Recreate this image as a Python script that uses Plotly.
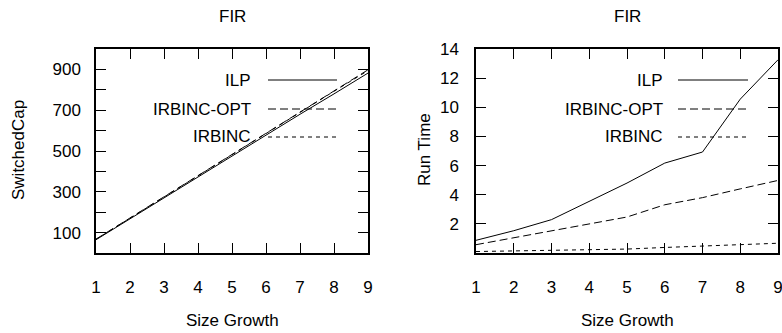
import plotly.graph_objects as go

size_growth = [1, 2, 3, 4, 5, 6, 7, 8, 9]

cap_ilp = [65, 168, 270, 372, 473, 577, 680, 780, 882]
cap_opt = [68, 172, 276, 381, 482, 590, 694, 796, 898]
cap_irbinc = [67, 171, 275, 379, 480, 588, 692, 793, 894]

rt_ilp = [0.87, 1.53, 2.29, 3.54, 4.8, 6.17, 6.93, 10.56, 13.26]
rt_opt = [0.57, 1.05, 1.49, 2.0, 2.47, 3.31, 3.8, 4.4, 4.98]
rt_irbinc = [0.1, 0.15, 0.2, 0.24, 0.27, 0.38, 0.48, 0.55, 0.67]

series_names = ["ILP", "IRBINC-OPT", "IRBINC"]
dashes = ["solid", "8px,4px", "4px,4px"]

cap_ticks = [100, 200, 300, 400, 500, 600, 700, 800, 900]
cap_ticktext = ["100", "", "300", "", "500", "", "700", "", "900"]
rt_ticks = [2, 4, 6, 8, 10, 12, 14]

W, H = 782, 333
FONT = "Liberation Sans, Arial, sans-serif"
FS = 17

fig = go.Figure()
for vals, name, d in zip([cap_ilp, cap_opt, cap_irbinc], series_names, dashes):
    fig.add_trace(go.Scatter(x=size_growth, y=vals, mode="lines", name=name,
                             line=dict(color="black", width=1, dash=d),
                             xaxis="x", yaxis="y", showlegend=False))
for vals, name, d in zip([rt_ilp, rt_opt, rt_irbinc], series_names, dashes):
    fig.add_trace(go.Scatter(x=size_growth, y=vals, mode="lines", name=name,
                             line=dict(color="black", width=1, dash=d),
                             xaxis="x2", yaxis="y2", showlegend=False))

def px(x):
    return x / W

def py(y):
    return 1 - y / H

axis_common = dict(showgrid=False, zeroline=False, showline=True, mirror="ticks",
                   linecolor="black", linewidth=1.5, ticks="inside", ticklen=10,
                   tickwidth=1.2, tickcolor="black", ticklabeloverflow="allow",
                   tickfont=dict(family=FONT, size=FS, color="black"))

fig.update_layout(
    width=W, height=H,
    margin=dict(l=0, r=0, t=0, b=0, pad=0, autoexpand=False),
    paper_bgcolor="white", plot_bgcolor="white",
    xaxis=dict(domain=[px(96), px(368)], range=[1, 9], tickvals=size_growth,
               anchor="y", ticklabelstandoff=18, automargin=False, **axis_common),
    yaxis=dict(domain=[py(253), py(49)], range=[0, 1000], tickvals=cap_ticks,
               ticktext=cap_ticktext, anchor="x", ticklabelstandoff=10, automargin=False, **axis_common),
    xaxis2=dict(domain=[px(476), px(778)], range=[1, 9], tickvals=size_growth,
                anchor="y2", ticklabelstandoff=18, automargin=False, **axis_common),
    yaxis2=dict(domain=[py(253), py(49)], range=[0, 14], tickvals=rt_ticks,
                anchor="x2", ticklabelstandoff=12, automargin=False, **axis_common),
)

ann = []
def text(x, y, s, xanchor="center", angle=0):
    ann.append(dict(x=px(x), y=py(y), xref="paper", yref="paper", text=s,
                    showarrow=False, xanchor=xanchor, yanchor="middle", textangle=angle,
                    font=dict(family=FONT, size=FS, color="black")))

text(232, 16, "FIR")
text(627, 16, "FIR")
text(232, 320, "Size Growth")
text(627, 320, "Size Growth")
text(18, 150, "SwitchedCap", angle=-90)
text(424, 150, "Run Time", angle=-90)

shapes = []
rows = [80, 109, 137]
for (tx, s0, s1) in [(253, 268, 337), (665, 678, 748)]:
    for name, d, ry in zip(series_names, dashes, rows):
        text(tx, ry, name, xanchor="right")
        shapes.append(dict(type="line", xref="paper", yref="paper",
                           x0=px(s0), x1=px(s1), y0=py(ry), y1=py(ry),
                           line=dict(color="black", width=1, dash=d)))

fig.update_layout(annotations=ann, shapes=shapes)
fig.write_html("out.html", config={"displayModeBar": False})

with open("out.html", "r", encoding="utf-8") as f:
    html = f.read()
html = html.replace("<head>", "<head><style>html,body{margin:0;padding:0;overflow:hidden;}</style>", 1)
with open("out.html", "w", encoding="utf-8") as f:
    f.write(html)
